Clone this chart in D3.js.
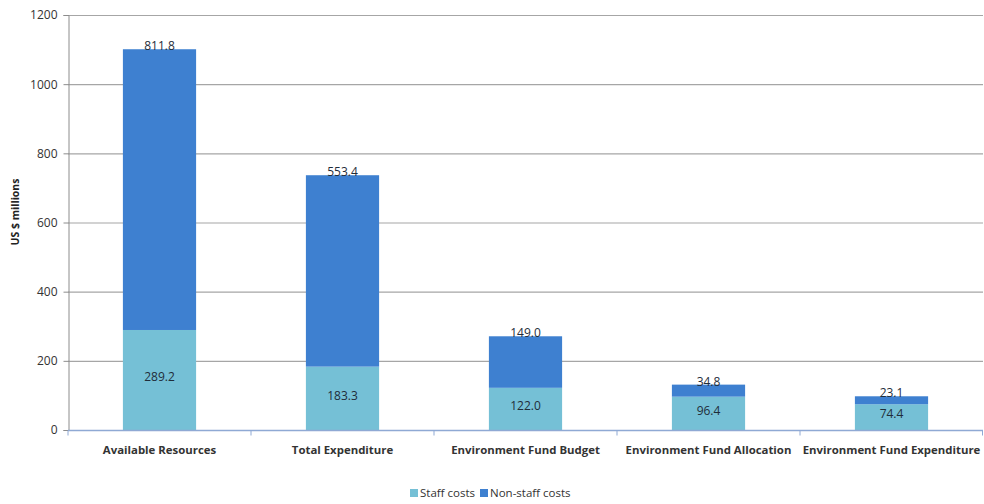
<!DOCTYPE html>
<html>
<head>
<meta charset="utf-8">
<script src="https://cdn.jsdelivr.net/npm/d3@7"></script>
<style>
  body { margin: 0; background: #fff; }
  text { font-family: "Open Sans", "Noto Sans", sans-serif; }
</style>
</head>
<body>
<div id="chart"></div>
<script>
var categories = ["Available Resources", "Total Expenditure", "Environment Fund Budget", "Environment Fund Allocation", "Environment Fund Expenditure"]
var staffCosts = [289.2, 183.3, 122.0, 96.4, 74.4]
var nonStaffCosts = [811.8, 553.4, 149.0, 34.8, 23.1]
var yTicks = [0, 200, 400, 600, 800, 1000, 1200]
var seriesNames = ["Staff costs", "Non-staff costs"]
var colors = ["#75c0d6", "#3e80d0"]

var width = 984,
    height = 504,
    margin = {top: 15, right: 1, bottom: 74, left: 68}

var svg = d3.select('#chart')
  .append('svg')
  .attr('width', width)
  .attr('height', height)

var g = svg.append('g')
  .attr('transform', 'translate(' + margin.left + ',' + margin.top + ')')

var innerW = width - margin.left - margin.right,
    innerH = height - margin.top - margin.bottom

const x = d3.scaleBand().domain(categories).range([0, innerW]).paddingInner(0).paddingOuter(0)
const y = d3.scaleLinear().domain([0, 1200]).range([innerH, 0])

var barW = x.bandwidth() * 0.4

// gridlines
g.selectAll('.grid')
  .data(yTicks.filter(d => d > 0))
  .enter().append('line')
  .attr('x1', 0)
  .attr('x2', innerW)
  .attr('y1', d => y(d) + 0.5)
  .attr('y2', d => y(d) + 0.5)
  .attr('stroke', '#a6a6a6')
  .attr('stroke-width', 1.2)

// y axis
var yAxis = g.append('g')
  .attr('transform', 'translate(0.5,0)')
  .call(d3.axisLeft(y).tickValues(yTicks).tickFormat(d3.format('d')).tickSize(5).tickPadding(6))
yAxis.select('.domain').attr('stroke', '#8c8c8c')
yAxis.selectAll('.tick line').attr('stroke', '#8c8c8c')
yAxis.selectAll('text')
  .attr('fill', '#333')
  .style('font-size', '12px')

// stacked data
var stackData = categories.map(function (c, i) {
  return {cat: c, staff: staffCosts[i], nonstaff: nonStaffCosts[i]}
})
var stack = d3.stack().keys(['staff', 'nonstaff'])(stackData)

g.selectAll('.layer')
  .data(stack)
  .enter().append('g')
  .attr('fill', (d, i) => colors[i])
  .selectAll('rect')
  .data(d => d)
  .enter().append('rect')
  .attr('x', d => x(d.data.cat) + (x.bandwidth() - barW) / 2)
  .attr('width', barW)
  .attr('y', d => y(d[1]))
  .attr('height', d => y(d[0]) - y(d[1]))

// x axis
var xAxisG = g.append('g')
  .attr('transform', 'translate(0,' + (innerH + 0.5) + ')')
xAxisG.append('line')
  .attr('x1', 0).attr('x2', innerW)
  .attr('stroke', '#8fa9d4').attr('stroke-width', 1.3)
xAxisG.selectAll('.xt')
  .data(d3.range(categories.length + 1))
  .enter().append('line')
  .attr('x1', i => i < categories.length ? x(categories[i]) : innerW - 0.5)
  .attr('x2', i => i < categories.length ? x(categories[i]) : innerW - 0.5)
  .attr('y1', 0).attr('y2', 5)
  .attr('stroke', '#8fa9d4')
xAxisG.selectAll('.xl')
  .data(categories)
  .enter().append('text')
  .attr('x', d => x(d) + x.bandwidth() / 2)
  .attr('y', 23)
  .attr('text-anchor', 'middle')
  .attr('fill', '#333')
  .style('font-size', '11.4px')
  .style('font-weight', 'bold')
  .text(d => d)

// value labels
g.selectAll('.staffLabel')
  .data(stackData)
  .enter().append('text')
  .attr('x', d => x(d.cat) + x.bandwidth() / 2)
  .attr('y', d => y(d.staff / 2) - 3)
  .attr('dy', '0.35em')
  .attr('text-anchor', 'middle')
  .attr('fill', '#1f2d3a')
  .style('font-size', '12px')
  .text(d => d.staff.toFixed(1))

g.selectAll('.nonLabel')
  .data(stackData)
  .enter().append('text')
  .attr('x', d => x(d.cat) + x.bandwidth() / 2)
  .attr('y', d => y(d.staff + d.nonstaff) + 1)
  .attr('text-anchor', 'middle')
  .attr('fill', '#1f2d3a')
  .style('font-size', '12px')
  .text(d => d.nonstaff.toFixed(1))

// y axis title
svg.append('text')
  .attr('transform', 'translate(19,212)rotate(-90)')
  .attr('text-anchor', 'middle')
  .attr('fill', '#222')
  .style('font-size', '10.5px')
  .style('font-weight', 'bold')
  .text('US $ millions')

// legend
var legend = svg.append('g').attr('transform', 'translate(410,493)')
var lx = [0, 70]
seriesNames.forEach(function (s, i) {
  legend.append('rect')
    .attr('x', lx[i]).attr('y', -4)
    .attr('width', 8).attr('height', 8)
    .attr('fill', colors[i])
  legend.append('text')
    .attr('x', lx[i] + 10).attr('y', 0)
    .attr('dy', '0.35em')
    .attr('fill', '#333')
    .style('font-size', '11.5px')
    .text(s)
})
</script>
</body>
</html>
